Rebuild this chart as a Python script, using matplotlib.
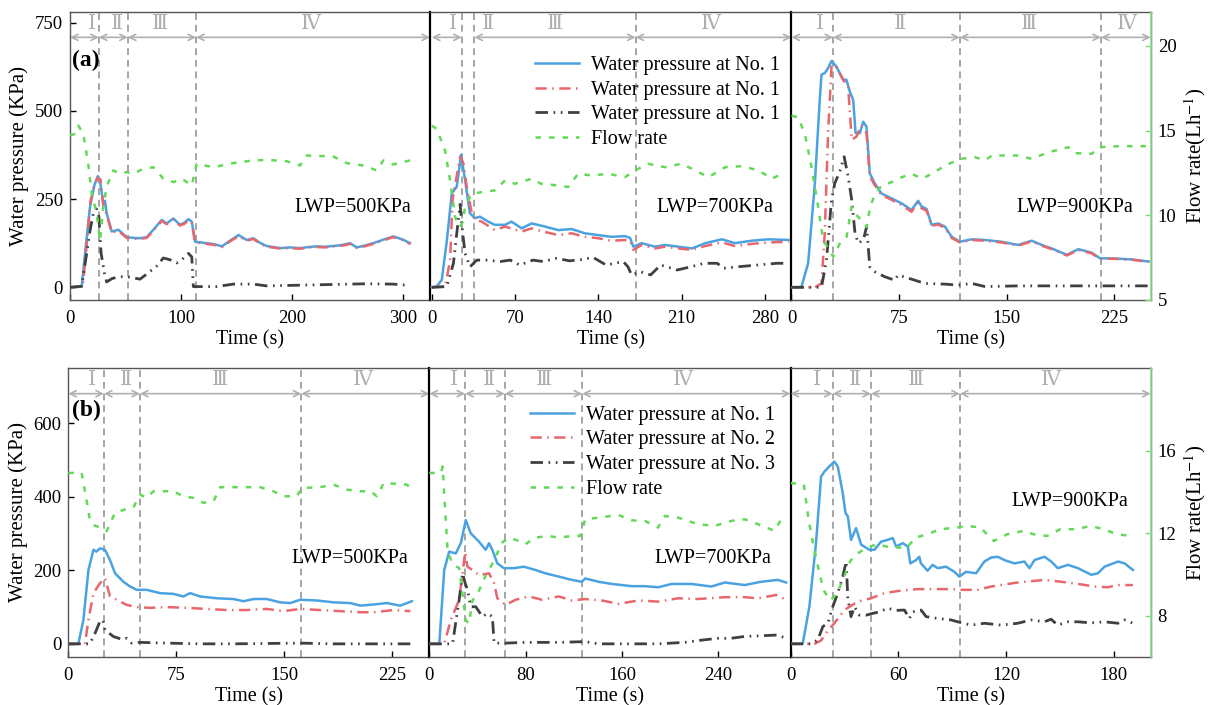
import numpy as np
import matplotlib
matplotlib.use('Agg')
import matplotlib.pyplot as plt
import matplotlib.transforms as mtransforms

plt.rcParams['font.family'] = ['Liberation Serif', 'DejaVu Serif']
plt.rcParams['mathtext.fontset'] = 'stix'

# ---------------- data (time s, value) ----------------
# (a) row : LWP 500 / 700 / 900 KPa
a1_blue = np.array([[0,0],[10.5,2],[14,110],[18,228],[22,290],[25,315],[27,300],[30,238],[31.5,245],[33,210],[37.6,158],[43.6,163],[51,142],[57,140],[63,139],[69,142],[75,163],[82.6,191],[87,181],[93,195],[99,177],[103,183],[106.6,193],[109.6,186],[112.6,129],[118,127],[123,125],[130,122],[136.7,116],[144,132],[151.7,148],[159,134],[165,139],[171,126],[177,117],[189,111],[198,113],[207,111],[215,114],[222,116],[230,115],[237,117],[245,120],[252,125],[258,113],[265,118],[273,125],[282,135],[291,144],[299,136],[306,125]])
a1_red = np.array([[0,0],[11.5,2],[15,120],[18.5,245],[22,290],[25,310],[27.5,305],[30,232],[33,205],[37.6,155],[43.6,160],[51,140],[57,138],[63,137],[69,140],[75,160],[82.6,188],[87,179],[93,192],[99,175],[103,180],[106.6,190],[109.6,183],[112.6,127],[118,125],[123,123],[130,120],[136.7,114],[144,130],[151.7,145],[159,132],[165,137],[171,124],[177,115],[189,110],[198,111],[207,109],[215,113],[222,114],[230,113],[237,116],[245,118],[252,123],[258,112],[265,116],[273,123],[282,133],[291,142],[299,134],[306,123]])
a1_black = np.array([[0,0],[10.5,3],[15,96],[18,160],[21,210],[24,222],[26,200],[28,96],[31,40],[33,15],[38,25],[44.6,30],[51,30],[57,27],[63,23],[68,35],[72,45],[78,60],[84,83],[90,78],[96,69],[100.6,78],[106.6,96],[109.6,86],[111,2],[117,2],[132,2],[147,9],[165,9],[177,4],[207,6],[237,8],[267,10],[291,9],[306,5]])
a1_flow = np.array([[0,14.7],[4,14.8],[7.5,15.3],[12,14.8],[16.5,13.0],[19.5,11.3],[24,10.1],[27,8.5],[30,10.5],[33,11.7],[39,12.65],[45,12.45],[51,12.55],[57,12.45],[66,12.75],[75,12.84],[84,12.16],[93,11.96],[100.6,12.16],[109.6,11.76],[114,13.04],[129,12.84],[147,13.08],[165,13.24],[177,13.27],[195,13.19],[207,12.94],[213,13.53],[237,13.47],[249,13.08],[264,12.94],[276,12.65],[282,13.24],[291,13.0],[306,13.24]])

a2_blue = np.array([[0,0],[4,2],[8.4,21],[12.6,130],[16.8,266],[21,285],[24.6,375],[28,304],[32,210],[36.3,196],[40.5,200],[47.5,186],[53,177],[61.6,177],[67,186],[75.6,167],[84,181],[95.2,172],[106.4,162],[117.6,165],[128.8,153],[140,148],[151,143],[162.5,145],[166.7,140],[169.5,115],[176.5,125],[187.7,115],[196,120],[207.5,115],[218.7,110],[230,125],[244,136],[255,125],[269,132],[283,136],[300,134]])
a2_red = np.array([[0,0],[11.2,2],[15.4,77],[17.5,250],[22.4,342],[23.8,370],[26.6,351],[29.4,285],[33.6,210],[36.4,191],[42,186],[53,162],[61.6,172],[75.6,158],[84,167],[93.5,158],[106.4,148],[117.6,153],[128.8,143],[140,139],[151,132],[162.5,134],[166.7,132],[169.5,106],[176.5,120],[187.7,110],[196,115],[207.5,110],[218.7,106],[230,117],[244,127],[255,117],[269,123],[283,127],[300,129]])
a2_black = np.array([[0,0],[12.6,2],[18.2,68],[21,153],[23.8,235],[26,153],[28,96],[32.2,58],[37.8,77],[46.2,77],[57.4,73],[66,77],[74,63],[85,77],[93.5,73],[104.7,82],[116,75],[127,79],[135.5,85],[146.7,63],[161,73],[165,58],[168,35],[175.6,44],[184,35],[192.5,63],[206.5,49],[217.6,58],[229,68],[240,68],[245.7,54],[256.9,58],[273.7,63],[290,68],[300,68]])
a2_flow = np.array([[0,15.29],[4.2,15.1],[11.2,13.8],[15.4,12.06],[19.6,9.9],[23.5,9.3],[26,9.6],[28,10.5],[33.6,11.27],[42,11.37],[53,11.47],[61.6,12.06],[70,11.86],[84,12.16],[92,11.86],[106.4,11.76],[114.8,11.67],[123,12.45],[134.5,12.35],[148.5,12.45],[162.5,12.25],[171,12.65],[182,13.04],[196,12.84],[210,13.04],[218.7,12.75],[232.7,12.25],[246.7,12.84],[260.7,12.9],[274.7,12.65],[286,12.16],[294.5,12.45]])

a3_blue = np.array([[0,0],[6.9,1],[11.6,68],[16.3,295],[19.7,531],[20.9,602],[23.2,607],[25.5,621],[27.9,641],[31.4,625],[36,588],[38.3,588],[40.7,554],[43,531],[44.7,437],[47.7,437],[50,469],[52.3,455],[54.6,323],[58,295],[62.7,266],[69.7,252],[76.7,238],[83.7,219],[88.3,245],[90.7,229],[94.2,222],[97.7,177],[102.3,181],[107,172],[111.7,143],[117.5,129],[125.6,136],[134.9,134],[146.5,129],[158.2,120],[167.5,132],[174.5,120],[181.5,110],[192,92],[200,108],[209.4,98],[215.2,82],[223.4,82],[237.3,79],[249,73]])
a3_red = np.array([[0,0],[16.3,0],[20.9,11],[23.2,153],[25.5,437],[27.9,625],[30.2,631],[32.6,614],[36,588],[39.5,569],[42,418],[45.3,427],[48.8,459],[52.3,437],[54.6,314],[58,290],[62.7,262],[69.7,248],[76.7,233],[83.7,214],[88.3,240],[90.7,224],[94.2,217],[97.7,174],[102.3,178],[107,168],[111.7,140],[117.5,127],[125.6,134],[134.9,132],[146.5,127],[158.2,118],[167.5,130],[174.5,118],[181.5,108],[192,90],[200,106],[209.4,96],[215.2,80],[223.4,81],[237.3,78],[249,72]])
a3_black = np.array([[0,0],[20.9,0],[24.4,77],[27.9,247],[30.2,295],[33.7,328],[36.7,370],[39.5,314],[42,247],[44.3,153],[46.6,125],[50.1,134],[52.4,172],[54.6,58],[58.1,44],[65,30],[72,20],[74.4,35],[83.7,23],[93,11],[107,9],[116.3,6],[125.6,11],[135,2],[158,4],[181.5,4],[205,4],[228,4],[249,4]])
a3_flow = np.array([[0,15.88],[4.7,15.78],[9.3,14.8],[14,12.84],[18.6,10.49],[22.1,8.53],[25.6,8.04],[29.1,7.55],[33.7,8.33],[38.4,8.72],[41.9,10.49],[44.3,10.1],[48.9,9.7],[52.4,9.31],[54.8,10.49],[58.3,11.27],[62.9,11.76],[69.9,11.96],[76.9,12.25],[83.9,12.45],[90.9,12.16],[97.9,12.45],[107.2,12.94],[117.6,13.33],[128,13.43],[135,13.24],[139.7,13.53],[158.3,13.53],[167.6,13.33],[179.2,13.72],[193.2,14.02],[197.8,13.67],[209.5,13.63],[214.1,14.02],[228,14.08],[249,14.08]])

# (b) row : LWP 500 / 700 / 900 KPa
b1_blue = np.array([[0,0],[7,0],[10.5,65],[14,201],[17.5,256],[19.5,251],[22,260],[25.5,256],[29,228],[32.5,192],[38.3,169],[43,156],[47.6,147],[54.5,147],[63.8,138],[73,136],[80,129],[84.7,138],[91.6,129],[103.2,124],[114.8,122],[121.8,116],[128.8,122],[138,122],[147.3,113],[154.3,111],[161.2,120],[172.8,118],[184.4,113],[196,111],[203,104],[212.2,107],[221.5,111],[230.8,104],[238.9,116]])
b1_red = np.array([[0,0],[11.6,0],[14,65],[17.5,138],[22,165],[25.5,179],[29,129],[33.7,120],[40.6,106],[47.6,100],[56.9,98],[68.5,100],[82.4,98],[96.3,95],[110.2,92],[124.1,92],[138,95],[149.7,89],[161.2,95],[175.1,92],[189,89],[203,86],[212.3,86],[226.2,92],[237.8,89]])
b1_black = np.array([[0,0],[15,0],[18.6,29],[22,61],[24,65],[25.5,38],[31.3,20],[38.3,11],[40.6,15],[44,2],[49.9,4],[68.5,2],[91.6,0],[114.8,0],[161,2],[184,0],[237.8,0]])
b1_flow = np.array([[0,14.92],[9.3,14.92],[12.8,13.55],[15.1,12.59],[18.6,12.35],[23.2,12.27],[26.7,12.1],[32.5,12.99],[39.5,13.15],[45.2,13.24],[49.9,13.87],[54.5,13.71],[59.2,14.03],[73,14.03],[80,13.79],[87,13.71],[94,13.47],[101,13.55],[105.6,14.23],[133.4,14.23],[142.6,14.03],[149.6,13.79],[158.9,13.79],[162.4,14.19],[175,14.23],[184.4,14.35],[193.7,14.11],[203,14.03],[210,14.03],[214.6,13.79],[219.3,14.43],[228.5,14.39],[235.5,14.35],[237.8,14.19]])

b2_blue = np.array([[0,0],[8.3,0],[12.4,201],[16.5,251],[22,246],[26.2,274],[30.3,337],[34.4,301],[41.3,278],[46.8,256],[49.6,274],[52.3,256],[56.5,219],[62,206],[70.3,206],[78.5,210],[88.2,201],[96.4,192],[107.5,183],[118.5,174],[126.7,169],[129.5,178],[140.5,169],[151.6,163],[168.1,157],[179.1,157],[190.2,154],[201.2,163],[217.8,163],[234.3,156],[245.4,167],[261.9,160],[275.7,169],[289.5,174],[296.4,167]])
b2_red = np.array([[0,0],[12.4,0],[17.9,65],[24.8,120],[29.8,250],[31.7,210],[35.9,201],[41.3,187],[49.6,192],[53.8,165],[56.5,124],[63.4,106],[71.7,120],[82.7,129],[93.7,120],[107.5,129],[118.5,118],[129.5,122],[143.3,118],[157.1,109],[173.7,118],[190.2,115],[206.7,124],[223.3,122],[245.4,127],[262,127],[273,124],[288.1,133],[296.4,120]])
b2_black = np.array([[0,0],[19.3,0],[24.8,120],[27.6,192],[29.8,165],[31.7,147],[34.4,101],[38.6,101],[44.1,74],[48.3,83],[52.4,74],[53.8,2],[63.4,2],[80,4],[107.5,4],[129.5,6],[140.6,0],[190.2,0],[212,4],[228.5,11],[239.5,15],[250.5,15],[261.6,20],[275.4,22],[289,24],[296.4,15]])
b2_flow = np.array([[0,14.92],[9.7,14.92],[11.1,15.24],[12.4,13.87],[15.2,11.14],[19.3,10.5],[24.8,10.3],[27.6,9.06],[30.3,7.77],[33,7.61],[35.9,8.73],[41.3,9.21],[46.8,9.94],[52.3,10.5],[60.6,11.54],[66,11.78],[74.3,11.62],[79.8,11.46],[88,11.78],[99,11.86],[107.4,11.78],[118.4,11.86],[125.3,11.86],[129.5,12.67],[140.5,12.75],[157,12.88],[168,12.62],[179.1,12.59],[190,12.27],[195.7,12.83],[206.7,12.75],[223.3,12.43],[237,12.35],[250.8,12.59],[261.9,12.67],[273,12.43],[286.7,12.11],[292.3,12.67],[296.4,12.67]])

b3_blue = np.array([[0,0],[6.8,0],[10.5,101],[14.2,274],[17,455],[18.9,469],[21.6,483],[24.4,496],[26.3,483],[29.1,410],[30.6,356],[31.9,347],[33.7,283],[36.5,315],[39.3,270],[43.9,256],[46.7,256],[50.4,278],[54.1,283],[56.9,288],[58.8,265],[62.5,274],[65.3,265],[66.7,219],[69.9,228],[71.7,237],[72.6,219],[76.3,199],[79.1,215],[81.9,206],[86.6,210],[91.2,196],[94,183],[97.7,196],[103.3,192],[107.9,224],[111.7,235],[115.4,237],[119.1,228],[124.6,219],[130.2,224],[133,206],[135.8,228],[141.4,237],[145.1,224],[148.8,206],[154.4,215],[160,206],[167.4,188],[171.1,192],[174.8,210],[182.3,224],[186,219],[190.6,201]])
b3_red = np.array([[0,0],[13.3,0],[17,9],[20.7,36],[24.4,56],[30,92],[37.4,115],[44.8,124],[52.3,138],[61.5,145],[70.8,149],[80.1,149],[89.4,149],[95,147],[104.2,147],[111.7,156],[126.5,167],[141.4,174],[150.6,169],[160,163],[169.2,156],[176.6,154],[182.2,160],[190.6,160]])
b3_black = np.array([[0,0],[11.5,0],[15.2,11],[18,47],[20.8,56],[23.5,101],[26.3,138],[29.1,183],[31,224],[31.9,124],[33.7,74],[35.6,101],[38.4,78],[42.1,78],[45.8,83],[49.5,87],[54.1,97],[58.8,91],[63.4,92],[66.2,69],[68,87],[72.7,92],[75.5,74],[82,69],[89.4,65],[93.1,60],[100.5,51],[108,56],[117.2,51],[126.5,56],[133.9,65],[141.3,60],[145,67],[148.8,51],[154.4,60],[160,60],[167.4,57],[174.8,60],[182.3,56],[186,65],[190.6,56]])
b3_flow = np.array([[0,14.43],[7.4,14.36],[10.2,12.59],[13,11.3],[15.8,10.18],[18.5,9.21],[22.2,8.73],[25.9,9.06],[29.7,9.86],[33.4,10.66],[37.1,11.0],[42.6,11.3],[48.2,11.46],[55.6,11.3],[64.9,11.3],[69.5,11.78],[76,11.94],[83.4,12.19],[92.7,12.27],[98.3,12.35],[105.7,12.27],[113.1,11.62],[120.6,11.94],[129.8,12.11],[135.4,11.94],[142.8,11.86],[150.2,12.19],[159.5,12.19],[166.9,12.35],[174.3,12.19],[181.8,11.94],[190.1,11.86]])

# stage boundaries (s) and stage label positions (s)
a1_bounds = [26, 52, 113.5]
a2_bounds = [25.2, 35.8, 171.4]
a3_bounds = [29, 117.4, 215.8]
b1_bounds = [24.8, 49.9, 162]
b2_bounds = [29.8, 62.7, 127]
b3_bounds = [23.5, 44.8, 94.3]
stage_names = ['Ⅰ', 'Ⅱ', 'Ⅲ', 'Ⅳ']
a1_stage_x = [19.5, 42, 81, 217]
a2_stage_x = [18, 47.6, 103.6, 235]
a3_stage_x = [19.7, 75.5, 166, 233.7]
b1_stage_x = [16.3, 40, 105.5, 205]
b2_stage_x = [20.7, 49.7, 95.2, 211]
b3_stage_x = [14.6, 35.9, 69.8, 145]

lwp_labels = ['LWP=500KPa', 'LWP=700KPa', 'LWP=900KPa']
legend_a = ['Water pressure at No. 1', 'Water pressure at No. 1', 'Water pressure at No. 1', 'Flow rate']
legend_b = ['Water pressure at No. 1', 'Water pressure at No. 2', 'Water pressure at No. 3', 'Flow rate']

top_xticks = [[0, 100, 200, 300], [0, 70, 140, 210, 280], [0, 75, 150, 225]]
bot_xticks = [[0, 75, 150, 225], [0, 80, 160, 240], [0, 60, 120, 180]]

# ---------------- styles ----------------
C_BLUE = '#4aa3e0'
C_RED = '#e8666d'
C_BLACK = '#404040'
C_GREEN = '#63d957'
C_STAGE = '#b0b0b0'
C_VLINE = '#a5a5a5'
C_SPINE = '#555555'
LS_RED = (0, (4.5, 2.2, 0.6, 2.2))
LS_BLACK = (0, (4.5, 2.0, 0.6, 2.0, 0.6, 2.0))
LS_GREEN = (0, (2.2, 3.2))

fig = plt.figure(figsize=(12.12, 7.05), dpi=100)

top_b, top_h = 405 / 705, 288 / 705
bot_b, bot_h = 48.3 / 705, 288.4 / 705
pos = {
    'a1': [70 / 1212, top_b, 360 / 1212, top_h],
    'a2': [430 / 1212, top_b, 361.5 / 1212, top_h],
    'a3': [791.5 / 1212, top_b, 359.2 / 1212, top_h],
    'b1': [68.3 / 1212, bot_b, 361 / 1212, bot_h],
    'b2': [429.3 / 1212, bot_b, 361.2 / 1212, bot_h],
    'b3': [790.5 / 1212, bot_b, 360.2 / 1212, bot_h],
}

panels = [
    ('a1', a1_blue, a1_red, a1_black, a1_flow, a1_bounds, a1_stage_x, (0, 324), top_xticks[0], 0, 0),
    ('a2', a2_blue, a2_red, a2_black, a2_flow, a2_bounds, a2_stage_x, (-1.5, 302.5), top_xticks[1], 1, 0),
    ('a3', a3_blue, a3_red, a3_black, a3_flow, a3_bounds, a3_stage_x, (0, 250.5), top_xticks[2], 2, 0),
    ('b1', b1_blue, b1_red, b1_black, b1_flow, b1_bounds, b1_stage_x, (0, 251), bot_xticks[0], 0, 1),
    ('b2', b2_blue, b2_red, b2_black, b2_flow, b2_bounds, b2_stage_x, (0, 300), bot_xticks[1], 1, 1),
    ('b3', b3_blue, b3_red, b3_black, b3_flow, b3_bounds, b3_stage_x, (0, 200.5), bot_xticks[2], 2, 1),
]

lwp_pos = {'a1': (0.949, 0.32), 'a2': (0.949, 0.32), 'a3': (0.951, 0.32),
           'b1': (0.941, 0.341), 'b2': (0.948, 0.341), 'b3': (0.937, 0.537)}

for name, blue, red, black, flow, bounds, stage_x, xlim, xticks, col, row in panels:
    ax = fig.add_axes(pos[name])
    ax2 = ax.twinx()
    l1, = ax.plot(blue[:, 0], blue[:, 1], color=C_BLUE, lw=1.8, zorder=3)
    l2, = ax.plot(red[:, 0], red[:, 1], color=C_RED, lw=1.8, ls=LS_RED, zorder=4)
    l3, = ax.plot(black[:, 0], black[:, 1], color=C_BLACK, lw=2.0, ls=LS_BLACK, zorder=4)
    l4, = ax2.plot(flow[:, 0], flow[:, 1], color=C_GREEN, lw=1.8, ls=LS_GREEN, zorder=3)

    ax.set_xlim(*xlim)
    ax.set_xticks(xticks)
    if row == 0:
        ax.set_ylim(-36, 780)
        ax.set_yticks([0, 250, 500, 750])
        ax2.set_ylim(5, 22)
        ax2.set_yticks([5, 10, 15, 20])
    else:
        ax.set_ylim(-35, 750)
        ax.set_yticks([0, 200, 400, 600])
        ax2.set_ylim(6, 20)
        ax2.set_yticks([8, 12, 16])

    ax.tick_params(axis='both', direction='in', length=4, width=1, labelsize=13.5)
    ax.tick_params(axis='x', pad=7.5)
    ax.tick_params(axis='y', pad=5)
    ax.set_xlabel('Time (s)', fontsize=14.5, labelpad=2)
    for s in ax.spines.values():
        s.set_color(C_SPINE)
        s.set_linewidth(1.0)
    for s in ax2.spines.values():
        s.set_visible(False)

    if col == 0:
        ax.set_ylabel('Water pressure (KPa)', fontsize=15, labelpad=4)
    else:
        ax.tick_params(axis='y', left=False, labelleft=False)
        ax.spines['left'].set_color('black')
        ax.spines['left'].set_linewidth(1.6)

    if col == 2:
        ax2.spines['right'].set_visible(True)
        ax2.spines['right'].set_color('#8fe08f')
        ax2.spines['right'].set_linewidth(1.2)
        ax2.tick_params(axis='y', direction='in', length=4, width=1, color='#7fd87f',
                        labelsize=13.5, pad=5)
        ax2.set_ylabel('Flow rate(Lh$^{-1}$)', fontsize=15, labelpad=4)
    else:
        ax2.tick_params(axis='y', right=False, labelright=False)

    # stage annotations
    trans = mtransforms.blended_transform_factory(ax.transData, ax.transAxes)
    for b in bounds:
        ax.axvline(b, color=C_VLINE, lw=1.4, ls=(0, (3.5, 2.5)), zorder=2)
    edges = [max(xlim[0], 0)] + list(bounds) + [xlim[1]]
    spans = [(edges[i], edges[i + 1]) for i in range(4)]
    if name == 'a2':
        spans = [(edges[0], edges[1]), (edges[2], edges[3]), (edges[3], edges[4])]
    for x0, x1 in spans:
        ax.annotate('', xy=(x1, 0.912), xytext=(x0, 0.912), xycoords=trans, textcoords=trans,
                    annotation_clip=False,
                    arrowprops=dict(arrowstyle='<->', color=C_STAGE, lw=1.2,
                                    shrinkA=0, shrinkB=0, mutation_scale=11))
    for x, lab in zip(stage_x, stage_names):
        ax.text(x, 0.958, lab, transform=trans, ha='center', va='center',
                color=C_STAGE, fontsize=15)

    lx, ly = lwp_pos[name]
    ax.text(lx, ly, lwp_labels[col], transform=ax.transAxes, ha='right', va='center', fontsize=14.5)

    if name == 'a1':
        ax.text(0.005, 0.833, '(a)', transform=ax.transAxes, fontsize=17, fontweight='bold',
                ha='left', va='center')
    if name == 'b1':
        ax.text(0.01, 0.855, '(b)', transform=ax.transAxes, fontsize=17, fontweight='bold',
                ha='left', va='center')

    if name in ('a2', 'b2'):
        labels = legend_a if name == 'a2' else legend_b
        anchor = (0.29, 0.848) if name == 'a2' else (0.279, 0.871)
        ax2.legend([l1, l2, l3, l4], labels, loc='upper left', bbox_to_anchor=anchor,
                   frameon=False, fontsize=14.5, handlelength=2.2, handletextpad=0.6,
                   labelspacing=0.28, borderpad=0, borderaxespad=0)

fig.savefig('out.png', dpi=100)
